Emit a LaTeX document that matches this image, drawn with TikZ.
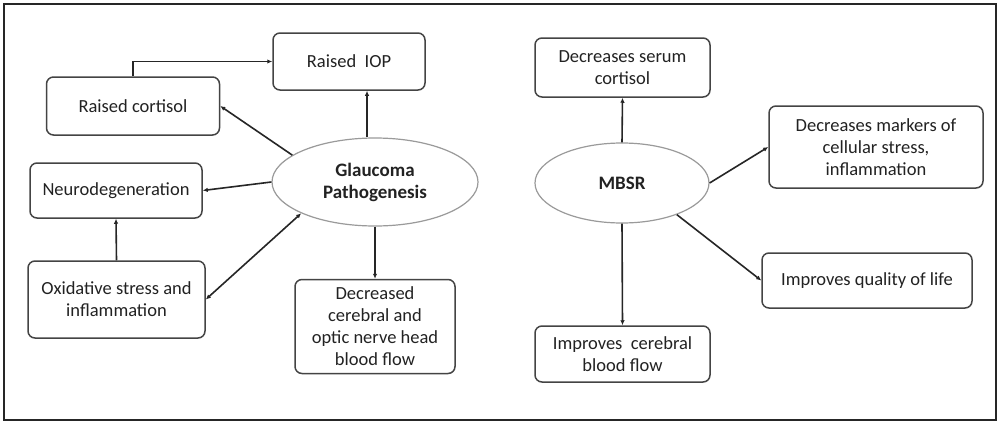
\documentclass[tikz,border=0pt]{standalone}
\usepackage{fontspec}
\setmainfont{Carlito}
\usetikzlibrary{shapes.geometric,arrows.meta}
\definecolor{boxline}{HTML}{444444}
\definecolor{txt}{HTML}{222222}
\definecolor{ellline}{HTML}{9A9A9A}
\tikzset{
  box/.style={draw=boxline, line width=1.5pt, rounded corners=7pt, fill=white,
    align=center, text=txt, inner sep=2pt,
    font=\fontsize{18.5}{22}\selectfont},
  ell/.style={ellipse, draw=ellline, line width=1.2pt, fill=white, inner sep=0pt,
    align=center, text=txt, font=\bfseries\fontsize{19}{22}\selectfont},
  arr/.style={line width=1.6pt, black!85, -{Latex[length=5pt,width=4.5pt]}},
  darr/.style={line width=1.6pt, black!85, {Latex[length=5pt,width=4.5pt]}-{Latex[length=5pt,width=4.5pt]}}
}
\begin{document}
\begin{tikzpicture}[x=1pt,y=-1pt]
\useasboundingbox (0,0) rectangle (1000,423);
\fill[white] (0,0) rectangle (1000,423);
\draw[line width=2pt, black!85] (3.5,3.5) rectangle (996,420);

% Left panel
\node[box, minimum width=152pt, minimum height=57pt] (iop) at (349,61.5) {Raised\ \ IOP};
\node[box, minimum width=173pt, minimum height=58pt] (cort) at (133,106) {Raised cortisol};
\node[box, minimum width=172pt, minimum height=55pt] (neuro) at (116,190.5) {Neurodegeneration};
\node[box, minimum width=177pt, minimum height=77pt] (oxid) at (116.5,299.5) {Oxidative stress and\\inflammation};
\node[box, minimum width=160pt, minimum height=94pt] (dec) at (375,326.5) {Decreased\\cerebral and\\optic nerve head\\blood flow};
\node[ell, minimum width=206pt, minimum height=88pt] (glau) at (375,182) {Glaucoma\\Pathogenesis};

\draw[arr] (cort.north) |- (iop.west);
\draw[arr] ([xshift=-8pt]glau.north) -- ([xshift=-8pt]glau.north |- iop.south);
\draw[arr] (glau.162) -- (cort.east);
\draw[arr] (glau.west) -- (neuro.east);
\draw[darr] (oxid.east) -- (glau.203);
\draw[arr] (oxid.north) -- (neuro.south);
\draw[arr] (glau.south) -- (dec.north);

% Right panel
\node[box, minimum width=175pt, minimum height=59pt] (serum) at (622.5,67.5) {Decreases serum\\cortisol};
\node[box, minimum width=214pt, minimum height=82pt] (mark) at (876,147) {Decreases markers of\\cellular stress,\\inflammation};
\node[box, minimum width=210pt, minimum height=55pt] (qual) at (867,280.5) {Improves quality of life};
\node[box, minimum width=175pt, minimum height=56pt] (cer) at (622.5,354) {Improves\ \ cerebral\\blood flow};
\node[ell, minimum width=174pt, minimum height=80pt] (mbsr) at (622,183) {MBSR};

\draw[arr] (mbsr.north) -- (serum.south);
\draw[arr] (mbsr.east) -- (mark.west);
\draw[arr] (mbsr.-30) -- (qual.west);
\draw[arr] (mbsr.south) -- (cer.north);
\end{tikzpicture}
\end{document}
